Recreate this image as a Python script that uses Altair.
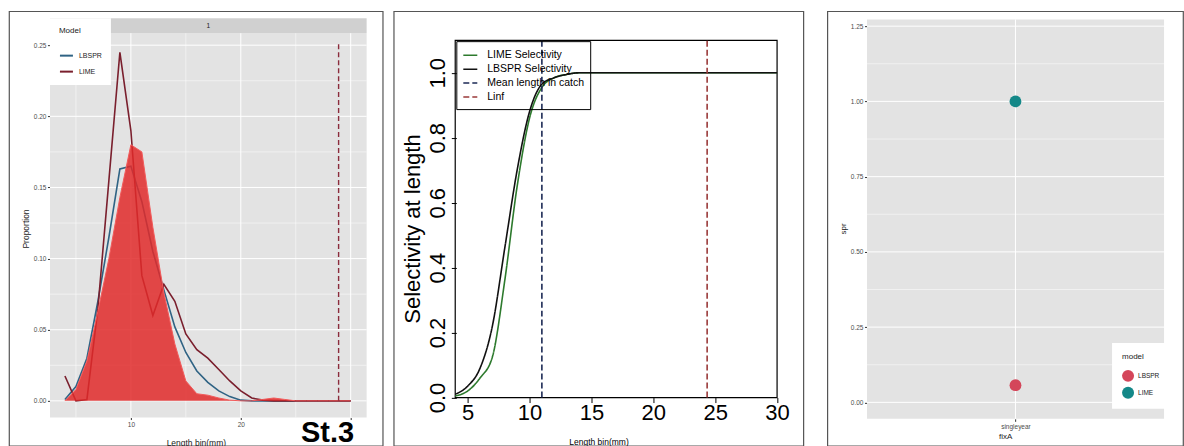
import altair as alt
import pandas as pd

FONT = "Liberation Sans"

# ---------------- Panel 1: length composition ----------------
len_bins = list(range(4, 31))
obs_prop = [0.0, 0.008, 0.028, 0.063, 0.10, 0.143, 0.18, 0.175, 0.122, 0.076, 0.04, 0.014,
            0.005, 0.004, 0.002, 0.0005, 0.0, 0.0, 0.001, 0.002, 0.001, 0.0, 0.0, 0.0, 0.0, 0.0, 0.0]
lbspr_prop = [0.001, 0.01, 0.03, 0.07, 0.115, 0.163, 0.165, 0.14, 0.105, 0.078, 0.052, 0.034,
              0.021, 0.013, 0.007, 0.003, 0.0005, 0.0, 0.0, 0.0, 0.0, 0.0, 0.0, 0.0, 0.0, 0.0, 0.0]
lime_prop = [0.0175, 0.0, 0.001, 0.065, 0.155, 0.245, 0.19, 0.088, 0.06, 0.082, 0.07, 0.047,
             0.036, 0.03, 0.022, 0.014, 0.007, 0.002, 0.0005, 0.0, 0.0, 0.0, 0.0, 0.0, 0.0, 0.0, 0.0]
linf_left = [28.9]
linf_left_top = 0.252
strip_label = ["1"]
station_label = ["St.3"]
station_xy = [27.9, -0.0225]

p1_x_major = [10, 20, 30]
p1_x_minor = [5, 15, 25]
p1_y_major = [0.0, 0.05, 0.10, 0.15, 0.20, 0.25]
p1_y_minor = [0.025, 0.075, 0.125, 0.175, 0.225]
p1_xlim = [2.64, 31.45]
p1_ylim = [-0.0117, 0.2584]
p1_strip = [0.2584, 0.2689]

# ---------------- Panel 2: selectivity ----------------
sel_len = [4, 5, 6, 7, 8, 9, 10, 11, 12, 13, 14, 15, 20, 25, 30]
lime_sel = [0.005, 0.02, 0.06, 0.125, 0.36, 0.65, 0.86, 0.955, 0.985, 0.995, 1.0, 1.0, 1.0, 1.0, 1.0]
lbspr_sel = [0.01, 0.035, 0.09, 0.22, 0.46, 0.70, 0.88, 0.965, 0.985, 0.995, 1.0, 1.0, 1.0, 1.0, 1.0]
sel_series = ["LIME Selectivity", "LBSPR Selectivity", "Mean length in catch", "Linf"]
vline_names = ["Mean length in catch", "Linf"]
vline_x = [11.0, 24.35]
p2_xticks = [5, 10, 15, 20, 25, 30]
p2_yticks = [0.0, 0.2, 0.4, 0.6, 0.8, 1.0]
p2_xlim = [4, 30]
p2_ylim = [0, 1.1]

# ---------------- Panel 3: SPR ----------------
spr_model = ["LBSPR", "LIME"]
spr_value = [0.057, 1.0]
spr_fixA = ["singleyear", "singleyear"]
p3_y_major = [0.0, 0.25, 0.5, 0.75, 1.0, 1.25]
p3_y_minor = [0.125, 0.375, 0.625, 0.875, 1.125]
p3_xlim = [0.4, 1.6]
p3_ylim = [-0.0548, 1.2722]

H = 435
FRAME = alt.ViewBackground(stroke="#555555", strokeWidth=1.2, fill="white")


def rect_df(xlim, ylim):
    return pd.DataFrame({"x0": [xlim[0]], "x1": [xlim[1]], "y0": [ylim[0]], "y1": [ylim[1]]})


def hgrid_df(vals, xlim):
    return pd.DataFrame({"y": vals, "x0": [xlim[0]] * len(vals), "x1": [xlim[1]] * len(vals)})


def vgrid_df(vals, ylim):
    return pd.DataFrame({"x": vals, "y0": [ylim[0]] * len(vals), "y1": [ylim[1]] * len(vals)})


# ================= Panel 1 =================
X1 = alt.Scale(domain=[-1.09, 32.91], nice=False, zero=False)
Y1 = alt.Scale(domain=[-0.0316, 0.2739], nice=False, zero=False)

ax1 = alt.Axis(values=p1_x_major, offset=-28.3, tickSize=2, tickColor="#333333",
              labelColor="#4d4d4d", labelFontSize=6.5, labelPadding=2, domain=False, grid=False,
              title="Length bin(mm)", titleFontSize=8.5, titleColor="#1a1a1a",
              titleFontWeight="normal", titlePadding=10,
              labelExpr="datum.value == 30 ? '' : datum.label")
ay1 = alt.Axis(values=p1_y_major, format=".2f", offset=-41, tickSize=2.5, tickColor="#333333",
              labelColor="#4d4d4d", labelFontSize=6.5, labelPadding=1.5, domain=False, grid=False,
              title="Proportion", titleFontSize=8.5, titleColor="#1a1a1a",
              titleFontWeight="normal", titlePadding=3)


def x1(field):
    return alt.X(field, scale=X1, axis=ax1)


def y1(field):
    return alt.Y(field, scale=Y1, axis=ay1)


p1_bg = alt.Chart(rect_df(p1_xlim, p1_ylim)).mark_rect(color="#e3e3e3").encode(
    x=x1("x0:Q"), x2="x1", y=y1("y0:Q"), y2="y1")
p1_strip_r = alt.Chart(rect_df(p1_xlim, p1_strip)).mark_rect(color="#d0d0d0").encode(
    x=x1("x0:Q"), x2="x1", y=y1("y0:Q"), y2="y1")


def p1_hgrid(vals, w):
    return alt.Chart(hgrid_df(vals, p1_xlim)).mark_rule(color="white", strokeWidth=w).encode(
        x=x1("x0:Q"), x2="x1", y=y1("y:Q"))


def p1_vgrid(vals, w):
    return alt.Chart(vgrid_df(vals, p1_ylim)).mark_rule(color="white", strokeWidth=w).encode(
        x=x1("x:Q"), y=y1("y0:Q"), y2="y1")


strip_text = alt.Chart(pd.DataFrame({
    "t": strip_label, "x": [(p1_xlim[0] + p1_xlim[1]) / 2], "y": [(p1_strip[0] + p1_strip[1]) / 2]
})).mark_text(fontSize=6.5, color="#1a1a1a").encode(x=x1("x:Q"), y=y1("y:Q"), text="t:N")

fit_df = pd.DataFrame({
    "length": len_bins * 2,
    "prop": lbspr_prop + lime_prop,
    "model": ["LBSPR"] * len(len_bins) + ["LIME"] * len(len_bins),
})
p1_lines = alt.Chart(fit_df).mark_line(strokeWidth=1.6).encode(
    x=x1("length:Q"), y=y1("prop:Q"),
    color=alt.Color("model:N", scale=alt.Scale(domain=["LBSPR", "LIME"], range=["#2f6384", "#7a1f2d"]),
                    legend=alt.Legend(title="Model", orient="none", legendX=41, legendY=7,
                                      fillColor="white", padding=9, titleFontSize=8,
                                      titleFontWeight="normal", titleColor="#1a1a1a",
                                      labelFontSize=7, labelColor="#1a1a1a", symbolType="stroke",
                                      symbolStrokeWidth=2, symbolSize=169, rowPadding=4,
                                      titlePadding=13, labelOffset=5)))
obs_df = pd.DataFrame({"length": len_bins, "prop": obs_prop})
p1_area = alt.Chart(obs_df).mark_area(color="#e02a2a", opacity=0.85,
                                      line=alt.OverlayMarkDef(color="#f25a5a", strokeWidth=1)).encode(
    x=x1("length:Q"), y=y1("prop:Q"), y2=alt.datum(0))
p1_vline = alt.Chart(pd.DataFrame({"x": linf_left, "y0": [0.0], "y1": [linf_left_top]})).mark_rule(
    color="#8b2c3c", strokeWidth=1.4, strokeDash=[5, 3]).encode(
    x=x1("x:Q"), y=y1("y0:Q"), y2="y1")
p1_station = alt.Chart(pd.DataFrame({"t": station_label, "x": [station_xy[0]], "y": [station_xy[1]]})).mark_text(
    fontSize=29, fontWeight="bold", color="black", baseline="middle").encode(
    x=x1("x:Q"), y=y1("y:Q"), text="t:N")

panel1 = alt.layer(
    p1_bg, p1_strip_r,
    p1_hgrid(p1_y_minor, 0.5), p1_vgrid(p1_x_minor, 0.5),
    p1_hgrid(p1_y_major, 1.0), p1_vgrid(p1_x_major, 1.0),
    strip_text, p1_lines, p1_area, p1_vline, p1_station
).properties(width=374, height=H, view=FRAME)

# ================= Panel 2 =================
X2 = alt.Scale(domain=[-0.973, 32.12], nice=False, zero=False)
Y2 = alt.Scale(domain=[-0.1486, 1.1898], nice=False, zero=False)
C2 = alt.Scale(domain=sel_series, range=["#2d7a2d", "#111111", "#1c2a55", "#9a3a3a"])
D2 = alt.Scale(domain=sel_series, range=[[1, 0], [1, 0], [6, 3], [6, 3]])
leg2 = alt.Legend(title=None, orient="none", legendX=62.7, legendY=30, strokeColor="black",
                  padding=6, labelFontSize=10.5, labelColor="black", symbolType="stroke",
                  symbolSize=196, symbolStrokeWidth=1.5, rowPadding=0, labelOffset=9)

ax2 = alt.Axis(values=p2_xticks, offset=-48.3, tickSize=5, tickColor="black", tickWidth=1,
              labelColor="black", labelFontSize=22, labelPadding=0, domain=False, grid=False,
              title="Length bin(mm)", titleFontSize=8.5, titleColor="black",
              titleFontWeight="normal", titlePadding=14)
ay2 = alt.Axis(values=p2_yticks, format=".1f", offset=-62.7, tickSize=5, tickColor="black",
              labelColor="black", labelFontSize=22, labelAngle=270, labelAlign="center",
              labelBaseline="alphabetic", labelPadding=7, domain=False, grid=False,
              title="Selectivity at length", titleFontSize=22, titleColor="black",
              titleFontWeight="normal", titlePadding=2)


def x2(field):
    return alt.X(field, scale=X2, axis=ax2)


def y2(field):
    return alt.Y(field, scale=Y2, axis=ay2)


p2_box = alt.Chart(rect_df(p2_xlim, p2_ylim)).mark_rect(filled=False, color="black", strokeWidth=1.2).encode(
    x=x2("x0:Q"), x2="x1", y=y2("y0:Q"), y2="y1")
sel_df = pd.DataFrame({
    "length": sel_len * 2,
    "sel": lime_sel + lbspr_sel,
    "series": ["LIME Selectivity"] * len(sel_len) + ["LBSPR Selectivity"] * len(sel_len),
})
p2_lines = alt.Chart(sel_df).mark_line(strokeWidth=1.6, interpolate="monotone").encode(
    x=x2("length:Q"), y=y2("sel:Q"),
    color=alt.Color("series:N", scale=C2, legend=leg2),
    strokeDash=alt.StrokeDash("series:N", scale=D2, legend=leg2))
vl_df = pd.DataFrame({"x": vline_x, "series": vline_names,
                      "y0": [p2_ylim[0]] * 2, "y1": [p2_ylim[1]] * 2})
p2_vlines = alt.Chart(vl_df).mark_rule(strokeWidth=1.6).encode(
    x=x2("x:Q"), y=y2("y0:Q"), y2="y1",
    color=alt.Color("series:N", scale=C2, legend=leg2),
    strokeDash=alt.StrokeDash("series:N", scale=D2, legend=leg2))

panel2 = alt.layer(p2_box, p2_lines, p2_vlines).properties(width=410, height=H, view=FRAME)

# ================= spacer =================
spacer = alt.Chart(pd.DataFrame({"v": [0]})).mark_point(opacity=0).encode(
    x=alt.X("v:Q", axis=None), y=alt.Y("v:Q", axis=None)
).properties(width=2, height=H, view=alt.ViewBackground(strokeOpacity=0, fillOpacity=0))

# ================= Panel 3 =================
XQ3 = alt.Scale(domain=[0.2396, 1.6765], nice=False, zero=False)
XP3 = alt.Scale(type="point", align=0.529, padding=0.5)
Y3 = alt.Scale(domain=[-0.1444, 1.2998], nice=False, zero=False)

ax3 = alt.Axis(offset=-27, tickSize=2.5, tickColor="#333333", labelColor="#4d4d4d",
              labelFontSize=6.5, labelAngle=0, labelPadding=2, domain=False, grid=False,
              title="fixA", titleFontSize=8, titleColor="#1a1a1a", titleFontWeight="normal",
              titlePadding=3)
ay3 = alt.Axis(values=p3_y_major, format=".2f", offset=-39.7, tickSize=2.5, tickColor="#333333",
              labelColor="#4d4d4d", labelFontSize=6.5, labelPadding=1.5, domain=False, grid=False,
              title="spr", titleFontSize=8, titleColor="#1a1a1a", titleFontWeight="normal",
              titlePadding=3)


def y3(field):
    return alt.Y(field, scale=Y3, axis=ay3)


p3_bg = alt.Chart(rect_df(p3_xlim, p3_ylim)).mark_rect(color="#e3e3e3").encode(
    x=alt.X("x0:Q", scale=XQ3, axis=None), x2="x1", y=y3("y0:Q"), y2="y1")


def p3_hgrid(vals, w):
    return alt.Chart(hgrid_df(vals, p3_xlim)).mark_rule(color="white", strokeWidth=w).encode(
        x=alt.X("x0:Q", scale=XQ3, axis=None), x2="x1", y=y3("y:Q"))


p3_vgrid = alt.Chart(pd.DataFrame({"fixA": spr_fixA[:1], "y0": [p3_ylim[0]], "y1": [p3_ylim[1]]})).mark_rule(
    color="white", strokeWidth=1.0).encode(
    x=alt.X("fixA:N", scale=XP3, axis=ax3), y=y3("y0:Q"), y2="y1")
spr_df = pd.DataFrame({"fixA": spr_fixA, "spr": spr_value, "model": spr_model})
p3_pts = alt.Chart(spr_df).mark_circle(size=140, opacity=1).encode(
    x=alt.X("fixA:N", scale=XP3, axis=ax3), y=y3("spr:Q"),
    color=alt.Color("model:N", scale=alt.Scale(domain=spr_model, range=["#d4465a", "#148888"]),
                    legend=alt.Legend(title="model", orient="none", legendX=285, legendY=332,
                                      fillColor="white", padding=10, titleFontSize=8,
                                      titleFontWeight="normal", titleColor="#1a1a1a",
                                      labelFontSize=6.5, labelColor="#1a1a1a", symbolType="circle",
                                      symbolSize=144, rowPadding=5, titlePadding=9,
                                      labelOffset=4, symbolStrokeWidth=0)))

panel3 = alt.layer(
    p3_bg, p3_hgrid(p3_y_minor, 0.5), p3_hgrid(p3_y_major, 1.0), p3_vgrid, p3_pts
).resolve_scale(x="independent").properties(width=356, height=H, view=FRAME)

chart = alt.hconcat(panel1, panel2, spacer, panel3, spacing=11, bounds="flush").resolve_scale(
    color="independent", strokeDash="independent"
).properties(
    padding={"left": 8, "top": 10, "right": 0, "bottom": 0},
    background="white",
).configure(font=FONT)

chart.save("out.html", embed_options={"renderer": "svg", "actions": False})
